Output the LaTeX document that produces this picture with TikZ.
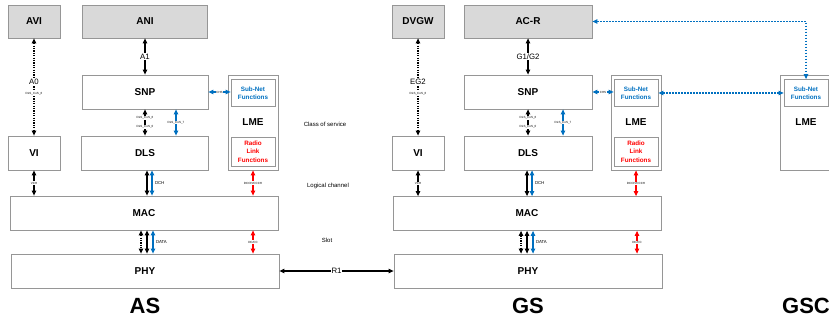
\documentclass[tikz,border=0pt]{standalone}
\usepackage{fontspec}
\setmainfont{Liberation Sans}
\usetikzlibrary{arrows.meta}
\definecolor{linkblue}{RGB}{0,112,192}
\definecolor{linkred}{RGB}{255,0,0}
\definecolor{boxgray}{RGB}{150,150,150}
\definecolor{ifacefill}{RGB}{217,217,217}
\newcommand\fsz[1]{\fontsize{#1}{#1}\selectfont}

\begin{document}
\begin{tikzpicture}[x=1pt,y=-1pt,
  layer/.style={draw=boxgray, line width=0.8pt, inner sep=0pt, font=\fsz{10}\bfseries},
  iface/.style={layer, fill=ifacefill},
  func/.style={draw=boxgray, line width=0.8pt, inner sep=0pt, align=center,
    minimum width=44pt, font=\fontsize{6.3}{8.3}\selectfont\bfseries},
  link/.style={line width=1.05pt,
    {Triangle[length=5pt,width=4.5pt]}-{Triangle[length=5pt,width=4.5pt]}},
  dotlink/.style={link, dash pattern=on 1.2pt off 1.2pt},
  bluelink/.style={link, draw=linkblue},
  bluedot/.style={bluelink, dash pattern=on 1.5pt off 1.5pt},
  redlink/.style={link, draw=linkred},
  tag/.style={inner sep=0.5pt, font=\fsz{3}},
  ctag/.style={tag, fill=white},
  iftag/.style={fill=white, inner sep=1pt, font=\fsz{7.8}},
  chtag/.style={inner sep=0.5pt, font=\fsz{4.3}},
  level/.style={inner sep=0pt, font=\fsz{6}},
  side/.style={inner sep=0pt, font=\fsz{22}\bfseries}]

\useasboundingbox (0,0) rectangle (829,320);

% ---------------- AS stack ----------------
\node[iface, minimum width=52pt, minimum height=33pt] (avi) at (34,21.5) {AVI};
\node[iface, minimum width=125pt, minimum height=33pt] (ani) at (145,21.5) {ANI};
\node[layer, minimum width=126pt, minimum height=34pt] (snpA) at (145,92) {SNP};
\node[layer, minimum width=50pt, minimum height=95pt] (lmeA) at (253,122.5) {};
\node[font=\fsz{10}\bfseries] (lmeAt) at (253,122.5) {LME};
\node[func, text=linkblue, minimum height=27pt] (subA) at (253,93) {Sub-Net\\Functions};
\node[func, text=linkred, minimum height=29pt] (radA) at (253,151.5) {Radio\\Link\\Functions};
\node[layer, minimum width=52pt, minimum height=34pt] (viA) at (34,153) {VI};
\node[layer, minimum width=127pt, minimum height=34pt] (dlsA) at (145,153) {DLS};
\node[layer, minimum width=268pt, minimum height=34pt] (macA) at (144,213) {MAC};
\node[layer, minimum width=268pt, minimum height=34pt] (phyA) at (145,271) {PHY};

% ---------------- GS stack ----------------
\node[iface, minimum width=52pt, minimum height=33pt] (dvgw) at (418,21.5) {DVGW};
\node[iface, minimum width=128pt, minimum height=33pt] (acr) at (528,21.5) {AC-R};
\node[layer, minimum width=128pt, minimum height=34pt] (snpG) at (528,92) {SNP};
\node[layer, minimum width=50pt, minimum height=95pt] (lmeG) at (636,122.5) {};
\node[font=\fsz{10}\bfseries] (lmeGt) at (636,122.5) {LME};
\node[func, text=linkblue, minimum height=27pt] (subG) at (636,93) {Sub-Net\\Functions};
\node[func, text=linkred, minimum height=29pt] (radG) at (636,151.5) {Radio\\Link\\Functions};
\node[layer, minimum width=52pt, minimum height=34pt] (viG) at (418,153) {VI};
\node[layer, minimum width=128pt, minimum height=34pt] (dlsG) at (528,153) {DLS};
\node[layer, minimum width=268pt, minimum height=34pt] (macG) at (527,213.5) {MAC};
\node[layer, minimum width=268pt, minimum height=34pt] (phyG) at (528,271) {PHY};

% ---------------- GSC ----------------
\node[layer, minimum width=100pt, minimum height=95pt] (lmeC) at (830,122.5) {};
\node[font=\fsz{10}\bfseries] (lmeCt) at (806,122.5) {LME};
\node[func, text=linkblue, minimum height=27pt] (subC) at (806,93) {Sub-Net\\Functions};

% ---------------- AS links ----------------
\draw[dotlink] (avi.south) -- node[iftag, pos=0.45] {A0}
  node[ctag, pos=0.565] {DLS\_CoS\_6} (viA.north);
\draw[link] (ani.south) -- node[iftag, pos=0.5] {A1} (snpA.north);
\draw[link] (snpA.south) -- node[ctag, pos=0.33] {DLS\_CoS\_6}
  node[ctag, pos=0.67] {DLS\_CoS\_0} (dlsA.north);
\draw[bluelink] ([xshift=31pt]snpA.south) -- node[ctag] {DLS\_CoS\_7} ([xshift=31pt]dlsA.north);
\draw[bluelink] (snpA.east) -- node[ctag] {CHS} (subA.west |- snpA.east);
\draw[link] (viA.south) -- node[ctag] {VCH} ([xshift=-110pt]macA.north);
\draw[link] ([xshift=2pt]dlsA.south) -- ([xshift=3pt]macA.north);
\draw[bluelink] ([xshift=7pt]dlsA.south) -- node[chtag, anchor=west, xshift=2pt] {DCH} ([xshift=8pt]macA.north);
\draw[redlink] (lmeA.south) -- node[ctag] {DCCH/CCCH} ([xshift=109pt]macA.north);
\draw[dotlink] ([xshift=-3pt]macA.south) -- ([xshift=-4pt]phyA.north);
\draw[link] ([xshift=3pt]macA.south) -- ([xshift=2pt]phyA.north);
\draw[bluelink] ([xshift=9pt]macA.south) -- node[chtag, anchor=west, xshift=2pt] {DATA} ([xshift=8pt]phyA.north);
\draw[redlink] ([xshift=109pt]macA.south) -- node[ctag] {DC/CC} ([xshift=108pt]phyA.north);

% ---------------- GS links ----------------
\draw[dotlink] (dvgw.south) -- node[iftag, pos=0.45] {EG2}
  node[ctag, pos=0.565] {DLS\_CoS\_6} (viG.north);
\draw[link] (acr.south) -- node[iftag, pos=0.5] {G1/G2} (snpG.north);
\draw[link] (snpG.south) -- node[ctag, pos=0.33] {DLS\_CoS\_6}
  node[ctag, pos=0.67] {DLS\_CoS\_0} (dlsG.north);
\draw[bluelink] ([xshift=35pt]snpG.south) -- node[ctag] {DLS\_CoS\_7} ([xshift=35pt]dlsG.north);
\draw[bluelink] (snpG.east) -- node[ctag] {CHS} (subG.west |- snpG.east);
\draw[link] (viG.south) -- node[ctag] {VCH} ([xshift=-109pt]macG.north);
\draw[link] ([xshift=-1pt]dlsG.south) -- ([xshift=0pt]macG.north);
\draw[bluelink] ([xshift=4pt]dlsG.south) -- node[chtag, anchor=west, xshift=2pt] {DCH} ([xshift=5pt]macG.north);
\draw[redlink] (lmeG.south) -- node[ctag] {DCCH/CCCH} ([xshift=109pt]macG.north);
\draw[dotlink] ([xshift=-6pt]macG.south) -- ([xshift=-7pt]phyG.north);
\draw[link] ([xshift=0pt]macG.south) -- ([xshift=-1pt]phyG.north);
\draw[bluelink] ([xshift=6pt]macG.south) -- node[chtag, anchor=west, xshift=2pt] {DATA} ([xshift=5pt]phyG.north);
\draw[redlink] ([xshift=110pt]macG.south) -- node[ctag] {DC/CC} ([xshift=109pt]phyG.north);

% ---------------- peer links ----------------
\draw[link] (phyA.east) -- node[iftag] {R1} (phyG.west);
\draw[bluedot] (subG.east) -- (subC.west);
\draw[bluedot] (acr.east) -| (subC.north);

% ---------------- level and station labels ----------------
\node[level] (cos) at (325,124) {Class of service};
\node[level] (lch) at (328,186) {Logical channel};
\node[level] (slot) at (327,240) {Slot};
\node[side] (asl) at (145,306) {AS};
\node[side] (gsl) at (528,306) {GS};
\node[side] (gscl) at (806,306) {GSC};
\end{tikzpicture}
\end{document}
